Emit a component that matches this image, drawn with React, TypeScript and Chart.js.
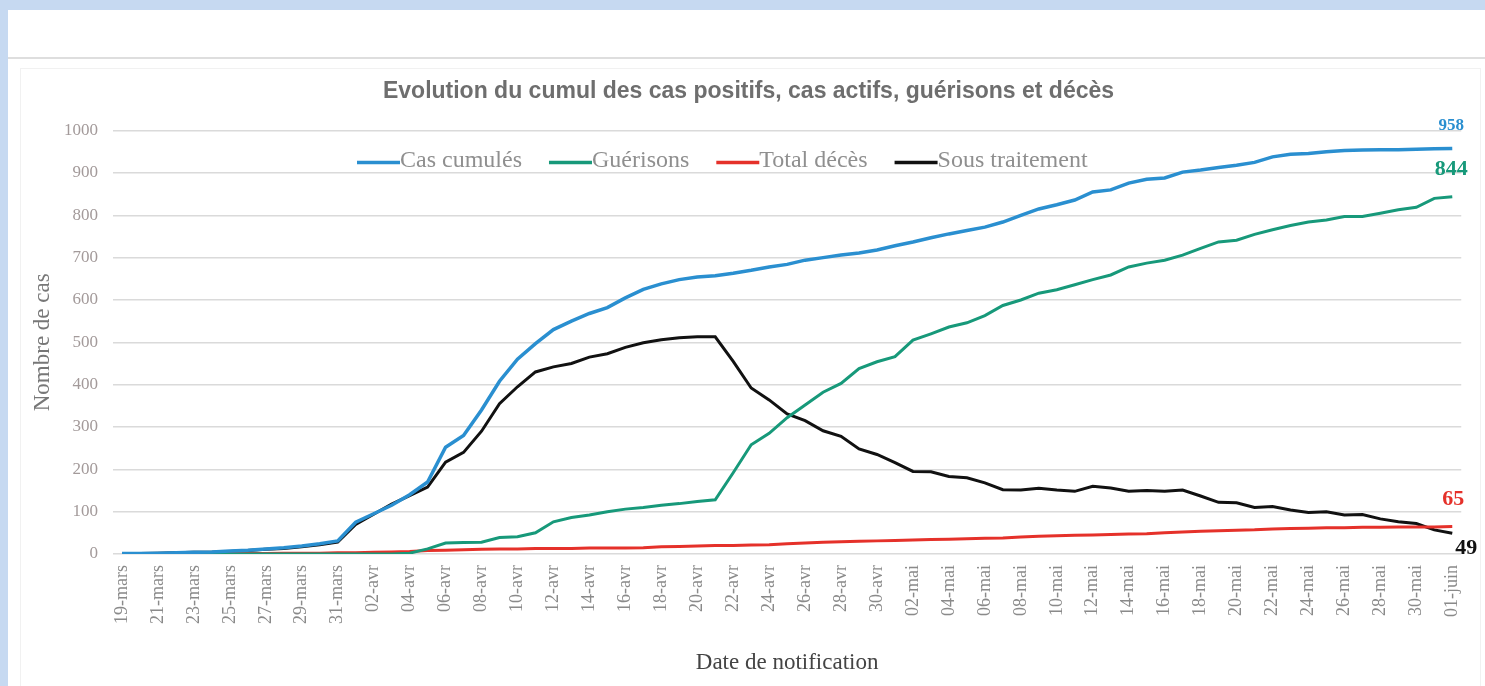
import React, { useEffect, useRef } from "react";
import { Chart, registerables } from "chart.js";

Chart.register(...registerables);

const TITLE = "Evolution du cumul des cas positifs, cas actifs, guérisons et décès";

const dates = [
  "19-mars", "20-mars", "21-mars", "22-mars", "23-mars", "24-mars", "25-mars", "26-mars", "27-mars", "28-mars", "29-mars", "30-mars", "31-mars",
  "01-avr", "02-avr", "03-avr", "04-avr", "05-avr", "06-avr", "07-avr", "08-avr", "09-avr", "10-avr",
  "11-avr", "12-avr", "13-avr", "14-avr", "15-avr", "16-avr", "17-avr", "18-avr", "19-avr", "20-avr",
  "21-avr", "22-avr", "23-avr", "24-avr", "25-avr", "26-avr", "27-avr", "28-avr", "29-avr", "30-avr",
  "01-mai", "02-mai", "03-mai", "04-mai", "05-mai", "06-mai", "07-mai", "08-mai", "09-mai", "10-mai",
  "11-mai", "12-mai", "13-mai", "14-mai", "15-mai", "16-mai", "17-mai", "18-mai", "19-mai", "20-mai",
  "21-mai", "22-mai", "23-mai", "24-mai", "25-mai", "26-mai", "27-mai", "28-mai", "29-mai", "30-mai", "31-mai",
  "01-juin",
];

const casCumules = [
  1, 1, 2, 3, 4, 5, 7, 9, 12, 15, 19, 24, 31,
  75, 95, 115, 140, 170, 252, 280, 340, 408, 460,
  497, 530, 550, 568, 582, 605, 625, 638, 648, 654,
  657, 663, 670, 678, 684, 694, 700, 706, 711, 718,
  728, 737, 747, 756, 764, 772, 784, 800, 815, 825,
  836, 855, 860, 876, 885, 888, 902, 907, 913, 918,
  925, 938, 944, 946, 950, 953, 954, 955, 955, 956, 957,
  958,
];

const guerisons = [
  0, 0, 0, 0, 0, 0, 0, 0, 0, 0, 0, 0, 0,
  0, 0, 0, 2, 12, 26, 27, 28, 39, 41,
  50, 76, 86, 92, 100, 106, 110, 115, 119, 124,
  128, 192, 258, 285, 322, 352, 382, 403, 438, 454,
  466, 505, 520, 536, 546, 563, 587, 600, 616, 624,
  636, 648, 659, 678, 687, 694, 706, 722, 737, 741,
  755, 766, 776, 784, 789, 797, 797, 805, 813, 819, 840,
  844,
];

const totalDeces = [
  0, 0, 0, 0, 0, 1, 1, 1, 1, 2, 2, 2, 3,
  3, 4, 5, 6, 8, 9, 10, 11, 12, 12,
  13, 13, 13, 14, 14, 14, 15, 17, 18, 19,
  20, 20, 21, 22, 24, 26, 28, 29, 30, 31,
  32, 33, 34, 35, 36, 37, 38, 40, 42, 43,
  44, 45, 46, 47, 48, 50, 52, 54, 55, 56,
  57, 59, 60, 61, 62, 62, 63, 63, 64, 64, 64,
  65,
];

const sousTraitement = [
  1, 1, 2, 3, 4, 4, 6, 8, 11, 13, 17, 22, 28,
  70, 94, 118, 138, 158, 217, 240, 290, 355, 395,
  430, 442, 450, 465, 473, 488, 499, 506, 511, 513,
  513, 455, 392, 364, 331, 315, 291, 278, 248, 235,
  216, 195, 194, 183, 180, 168, 152, 151, 155, 151,
  148, 160, 156, 148, 150, 148, 151, 137, 122, 121,
  110, 112, 104, 98, 100, 92, 93, 83, 76, 72, 57,
  49,
];

const seriesNames = ["Cas cumulés", "Guérisons", "Total décès", "Sous traitement"];
const seriesColors = ["#2a8fd0", "#17997a", "#e5312a", "#111111"];

const SERIF = "'Liberation Serif', 'Times New Roman', 'DejaVu Serif', serif";
const SANS = "'Liberation Sans', 'Noto Sans', sans-serif";

const legendPlugin = {
  id: "customLegend",
  afterDraw(chart: any) {
    const { ctx, chartArea } = chart;
    const y = chartArea.top + 30;
    let x = chartArea.left + 244;
    ctx.save();
    ctx.font = `24px ${SERIF}`;
    ctx.textBaseline = "middle";
    ctx.textAlign = "left";
    chart.data.datasets.forEach((ds: any) => {
      ctx.strokeStyle = ds.borderColor;
      ctx.lineWidth = 3.5;
      ctx.beginPath();
      ctx.moveTo(x, y + 2);
      ctx.lineTo(x + 43, y + 2);
      ctx.stroke();
      ctx.fillStyle = "#8f8f8f";
      ctx.fillText(ds.label, x + 43, y);
      x += 43 + ctx.measureText(ds.label).width + 27;
    });
    ctx.restore();
  },
};

const endLabelStyle = [
  { dx: -1, dy: -23, size: 17 },
  { dx: -1, dy: -27, size: 22 },
  { dx: 1, dy: -27, size: 22 },
  { dx: 14, dy: 15, size: 22 },
];

const endLabelsPlugin = {
  id: "endLabels",
  afterDatasetsDraw(chart: any) {
    const { ctx } = chart;
    ctx.save();
    ctx.textAlign = "center";
    ctx.textBaseline = "middle";
    chart.data.datasets.forEach((ds: any, i: number) => {
      const meta = chart.getDatasetMeta(i);
      const last = meta.data.length - 1;
      const pt = meta.data[last];
      const st = endLabelStyle[i];
      ctx.font = `bold ${st.size}px ${SERIF}`;
      ctx.fillStyle = ds.borderColor;
      ctx.fillText(String(ds.data[last]), pt.x + st.dx, pt.y + st.dy);
    });
    ctx.restore();
  },
};

export default function App() {
  const canvasRef = useRef<HTMLCanvasElement | null>(null);

  useEffect(() => {
    if (!canvasRef.current) return;
    const values = [casCumules, guerisons, totalDeces, sousTraitement];
    const chart = new Chart(canvasRef.current, {
      type: "line",
      data: {
        labels: dates,
        datasets: values.map((v, i) => ({
          label: seriesNames[i],
          data: v,
          borderColor: seriesColors[i],
          backgroundColor: seriesColors[i],
          borderWidth: i === 0 ? 3.5 : 3,
          pointRadius: 0,
          tension: 0,
          fill: false,
        })),
      },
      options: {
        responsive: true,
        maintainAspectRatio: false,
        animation: false,
        layout: { padding: { left: 24, right: 20, top: 0, bottom: 0 } },
        plugins: {
          legend: { display: false },
          tooltip: { enabled: false },
          title: {
            display: true,
            text: TITLE,
            color: "#6e6e6e",
            font: { family: SANS, size: 23, weight: "bold" },
            padding: { top: 19, bottom: 25 },
          },
        },
        scales: {
          x: {
            type: "category",
            offset: true,
            grid: { display: false, drawTicks: false },
            border: { display: false },
            ticks: {
              autoSkip: false,
              minRotation: 90,
              maxRotation: 90,
              padding: 11,
              color: "#8a8a8a",
              font: { family: SERIF, size: 18 },
              callback: function (this: any, v: any, i: number) {
                return i % 2 === 0 ? this.getLabelForValue(v) : "";
              },
            },
            title: {
              display: true,
              text: "Date de notification",
              color: "#444444",
              font: { family: SERIF, size: 23 },
              padding: { top: 0, bottom: 9 },
            },
            afterFit: (s: any) => {
              s.height = 132;
            },
          },
          y: {
            min: 0,
            max: 1000,
            ticks: {
              stepSize: 100,
              padding: 15,
              color: "#a39a9a",
              font: { family: SERIF, size: 17 },
              callback: (v: any) => String(v),
            },
            grid: { color: "#dadada", lineWidth: 1.5, drawTicks: false },
            border: { display: false },
            title: {
              display: true,
              text: "Nombre de cas",
              color: "#777777",
              font: { family: SERIF, size: 23 },
              padding: { top: -3, bottom: 0 },
            },
            afterFit: (s: any) => {
              s.width = 81;
            },
          },
        },
      } as any,
      plugins: [legendPlugin, endLabelsPlugin],
    });
    return () => chart.destroy();
  }, []);

  return (
    <div style={{ position: "fixed", inset: 0, background: "#c6d9f1" }}>
      <div style={{ position: "absolute", left: 8, top: 10, right: 0, bottom: 0, background: "#ffffff" }}>
        <div style={{ position: "absolute", left: 0, right: 0, top: 47, height: 2, background: "#dedede" }} />
        <div
          style={{
            position: "absolute",
            left: 12,
            top: 58,
            right: 4,
            bottom: 0,
            border: "1px solid #f1f1f1",
            borderBottom: "none",
          }}
        />
        <div style={{ position: "absolute", left: 0, top: 49, right: 0, bottom: 0 }}>
          <canvas ref={canvasRef} />
        </div>
      </div>
    </div>
  );
}
